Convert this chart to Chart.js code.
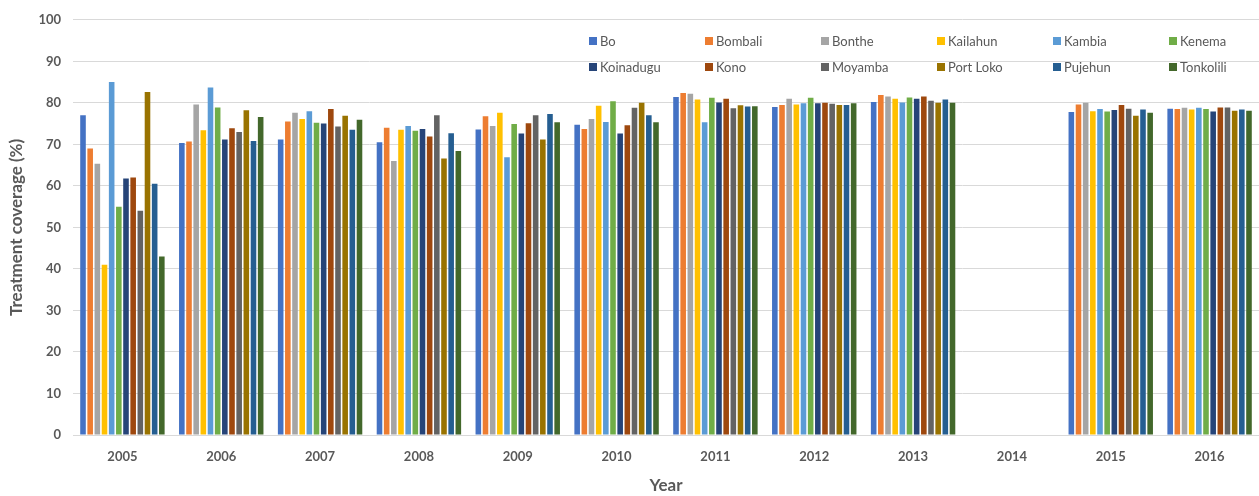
<!DOCTYPE html>
<html>
<head>
<meta charset="utf-8">
<script src="https://cdn.jsdelivr.net/npm/chart.js@4.4.1/dist/chart.umd.min.js"></script>
<style>
  html, body { margin: 0; padding: 0; background: #ffffff; }
  #wrap { width: 1259px; height: 496px; }
</style>
</head>
<body>
<div id="wrap"><canvas id="c" width="1259" height="496"></canvas></div>
<script>
// Treatment coverage (%) by district and year; 2014 has no data
const years = ['2005','2006','2007','2008','2009','2010','2011','2012','2013','2014','2015','2016'];

const bo        = [77.0, 70.3, 71.2, 70.5, 73.6, 74.7, 81.4, 79.0, 80.2, null, 77.8, 78.6];
const bombali   = [69.0, 70.7, 75.5, 74.0, 76.8, 73.7, 82.4, 79.5, 81.9, null, 79.6, 78.5];
const bonthe    = [65.3, 79.6, 77.6, 66.0, 74.4, 76.1, 82.2, 81.0, 81.5, null, 80.0, 78.8];
const kailahun  = [41.0, 73.4, 76.1, 73.5, 77.6, 79.3, 80.8, 79.6, 81.0, null, 78.0, 78.4];
const kambia    = [85.0, 83.7, 78.0, 74.4, 66.9, 75.4, 75.3, 79.9, 80.1, null, 78.5, 78.8];
const kenema    = [55.0, 78.9, 75.2, 73.3, 74.9, 80.4, 81.2, 81.2, 81.3, null, 77.9, 78.5];
const koinadugu = [61.8, 71.2, 75.0, 73.7, 72.6, 72.6, 80.1, 79.9, 81.0, null, 78.3, 77.9];
const kono      = [62.0, 73.9, 78.5, 71.9, 75.1, 74.6, 81.0, 80.0, 81.5, null, 79.5, 78.9];
const moyamba   = [54.0, 73.0, 74.3, 77.0, 77.0, 78.8, 78.7, 79.8, 80.5, null, 78.6, 78.9];
const portLoko  = [82.6, 78.2, 76.9, 66.6, 71.2, 80.0, 79.4, 79.5, 80.0, null, 76.9, 78.1];
const pujehun   = [60.5, 70.8, 73.5, 72.7, 77.3, 77.0, 79.1, 79.5, 80.8, null, 78.4, 78.4];
const tonkolili = [43.0, 76.6, 75.9, 68.4, 75.3, 75.3, 79.2, 79.9, 80.0, null, 77.6, 78.1];

const districts = ['Bo','Bombali','Bonthe','Kailahun','Kambia','Kenema',
                   'Koinadugu','Kono','Moyamba','Port Loko','Pujehun','Tonkolili'];
const seriesValues = [bo, bombali, bonthe, kailahun, kambia, kenema,
                      koinadugu, kono, moyamba, portLoko, pujehun, tonkolili];
const colors = ['#4472C4','#ED7D31','#A5A5A5','#FFC000','#5B9BD5','#70AD47',
                '#264478','#9E480E','#636363','#997300','#255E91','#43682B'];

const FONT = 'Lato, "Open Sans", sans-serif';
const TEXT = '#595959';

// Two-row legend drawn over the upper right of the plot
const gridLegend = {
  id: 'gridLegend',
  afterDraw(chart) {
    const ctx = chart.ctx;
    ctx.save();
    ctx.font = '13px ' + FONT;
    ctx.textBaseline = 'middle';
    ctx.textAlign = 'left';
    chart.data.datasets.forEach((ds, i) => {
      const col = i % 6, row = Math.floor(i / 6);
      const x = 589 + col * 116;
      const y = row === 0 ? 41 : 67;
      ctx.fillStyle = ds.backgroundColor;
      ctx.fillRect(x, y - 4, 8, 8);
      ctx.fillStyle = TEXT;
      ctx.fillText(ds.label, x + 11, y + 0.5);
    });
    ctx.restore();
  }
};

new Chart(document.getElementById('c'), {
  type: 'bar',
  data: {
    labels: years,
    datasets: districts.map((name, i) => ({
      label: name,
      data: seriesValues[i],
      backgroundColor: colors[i],
      borderWidth: 0,
      categoryPercentage: 0.87,
      barPercentage: 0.78
    }))
  },
  options: {
    responsive: false,
    animation: false,
    layout: { padding: { top: 12, right: 0, left: 0, bottom: 0 } },
    plugins: {
      legend: { display: false },
      tooltip: { enabled: false }
    },
    scales: {
      x: {
        grid: { display: false, drawTicks: false },
        border: { display: true, color: '#d9d9d9', width: 1 },
        ticks: { color: TEXT, font: { family: FONT, size: 13, weight: 'bold' }, padding: 14, maxRotation: 0 },
        title: { display: true, text: 'Year', color: TEXT, font: { family: FONT, size: 17, weight: 'bold' }, padding: { top: 6, bottom: 0 } },
        afterFit(scale) { scale.height = 61; }
      },
      y: {
        min: 0, max: 100,
        ticks: { stepSize: 10, color: TEXT, font: { family: FONT, size: 13, weight: 'bold' }, padding: 12 },
        grid: { color: '#d9d9d9', drawTicks: false },
        border: { display: false },
        title: { display: true, text: 'Treatment coverage (%)', color: TEXT, font: { family: FONT, size: 17, weight: 'bold' }, padding: { top: 6, bottom: 0 } },
        afterFit(scale) { scale.width = 73; }
      }
    }
  },
  plugins: [gridLegend]
});
</script>
</body>
</html>
